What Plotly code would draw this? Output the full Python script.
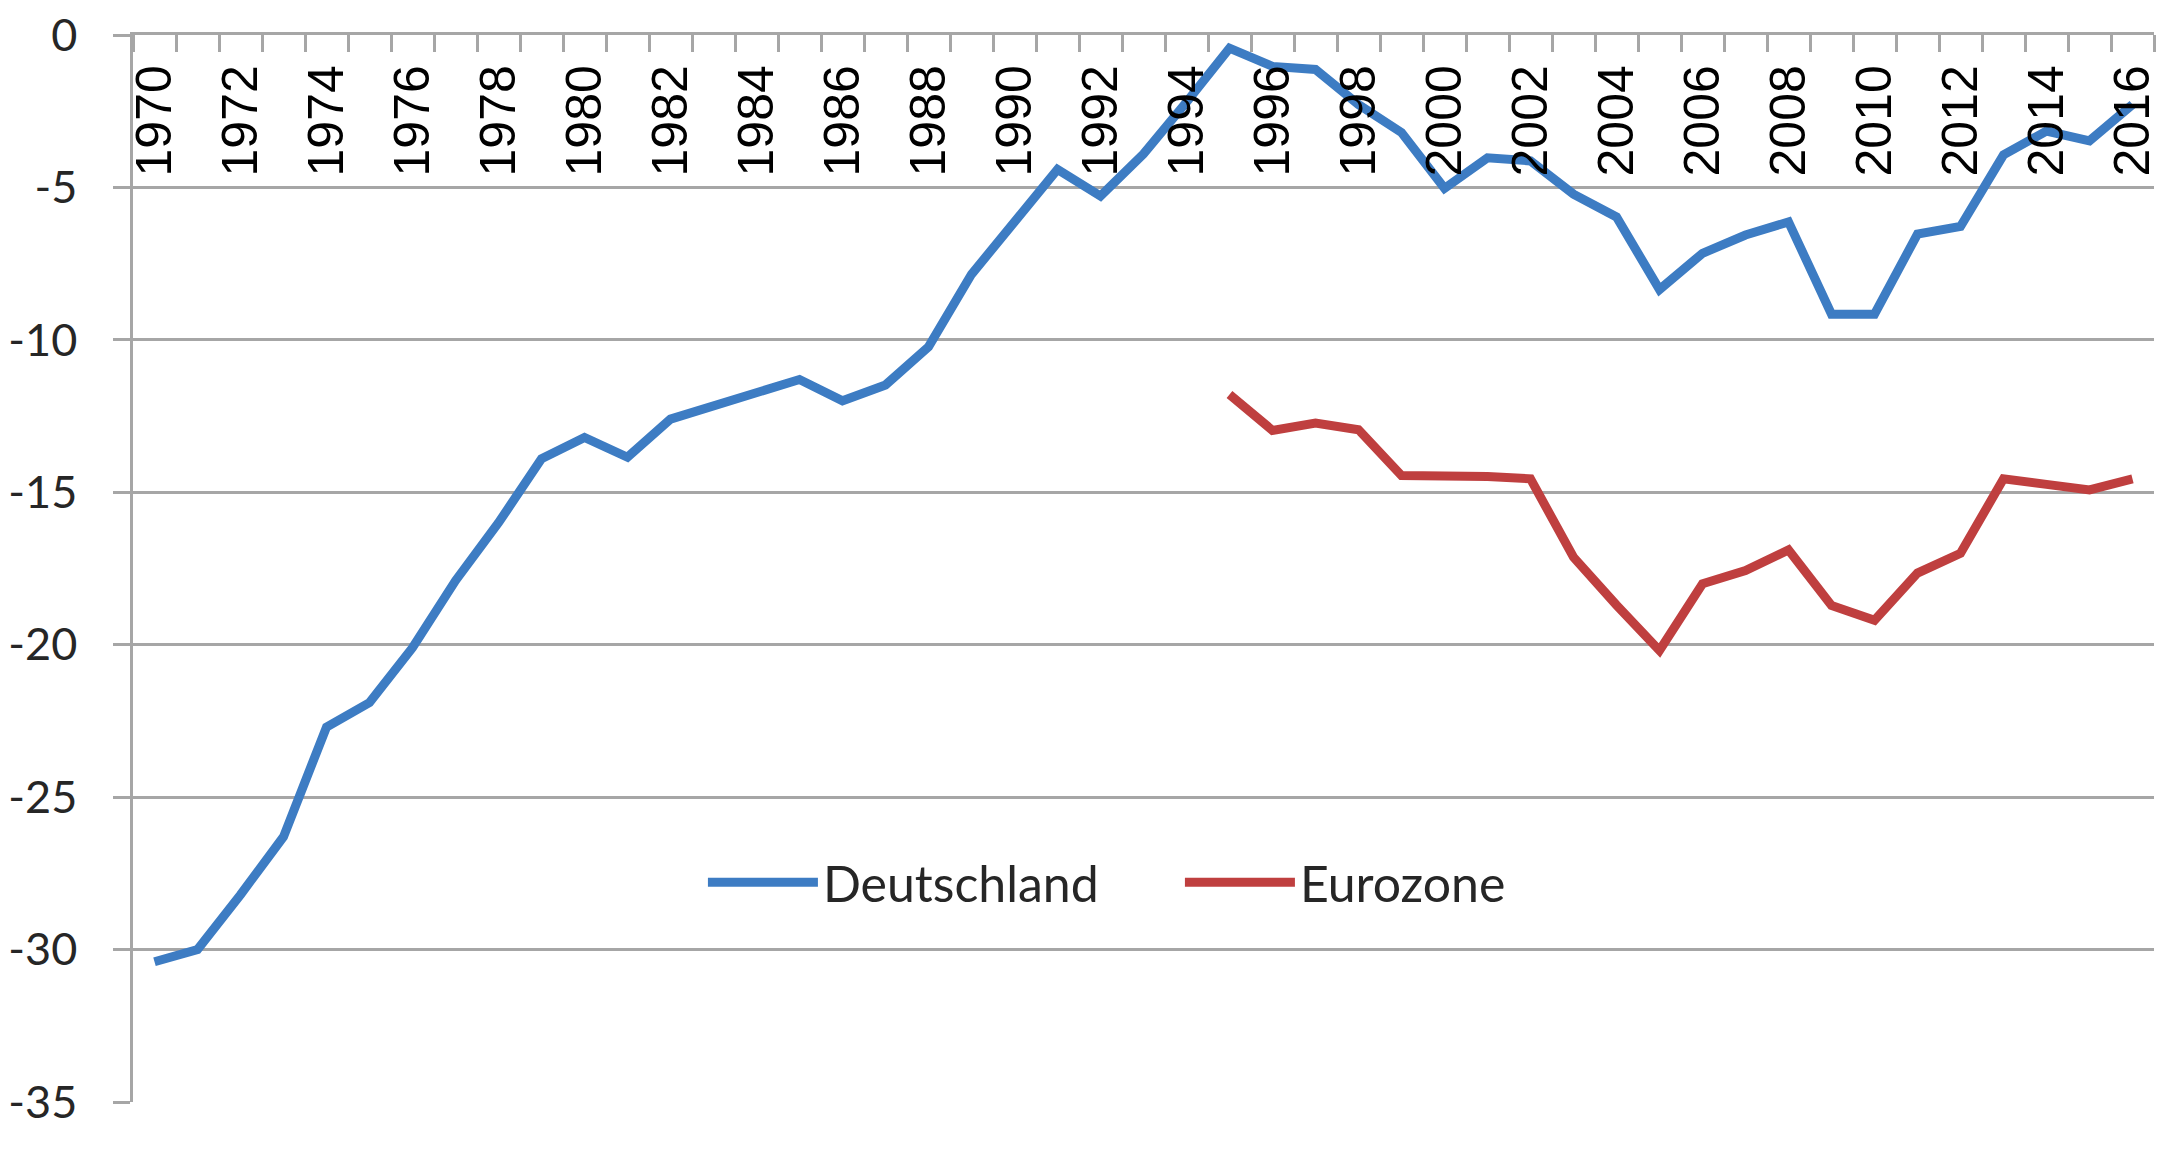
import plotly.graph_objects as go

years = list(range(1970, 2017))

deutschland = [-30.4, -30.0, -28.2, -26.3, -22.7, -21.9, -20.1, -17.9, -16.0, -13.9,
               -13.2, -13.85, -12.6, -12.15, -11.73, -11.3, -12.0, -11.48, -10.23, -7.85,
               -6.13, -4.41, -5.28, -3.9, -2.2, -0.43, -1.03, -1.13, -2.28, -3.2,
               -5.03, -4.03, -4.13, -5.22, -5.97, -8.35, -7.16, -6.56, -6.13, -9.16,
               -9.16, -6.53, -6.28, -3.93, -3.15, -3.47, -2.28]

eurozone = [None] * 25 + [-11.79, -12.97, -12.73, -12.95, -14.45, -14.45, -14.48, -14.56,
                          -17.13, -18.7, -20.19, -18.0, -17.57, -16.89, -18.71, -19.2,
                          -17.65, -17.0, -14.56, -14.74, -14.92, -14.56]

x_tick_years = list(range(1970, 2017, 2))
x_tick_labels = [str(y) for y in x_tick_years]
y_tick_vals = [0, -5, -10, -15, -20, -25, -30, -35]
y_tick_labels = ["0", "-5", "-10", "-15", "-20", "-25", "-30", "-35"]

GRID = "#A6A6A6"

fig = go.Figure()
fig.add_trace(go.Scatter(x=years, y=deutschland, mode="lines", name="Deutschland",
                         line=dict(color="#3D7CC3", width=9)))
fig.add_trace(go.Scatter(x=years, y=eurozone, mode="lines", name="Eurozone",
                         line=dict(color="#BF3F3F", width=9)))

fig.update_layout(
    width=2177, height=1152,
    margin=dict(l=125, r=31, t=27, b=58, autoexpand=False),
    paper_bgcolor="white", plot_bgcolor="white",
    showlegend=True,
    legend=dict(orientation="h", x=0.282, xanchor="left", y=0.206, yanchor="middle",
                font=dict(family="Lato", size=50, color="#262626"),
                bgcolor="rgba(0,0,0,0)", entrywidth=352, itemwidth=110),
    xaxis=dict(
        range=[1969.5, 2016.5], side="top", automargin=False,
        tickmode="array", tickvals=x_tick_years, ticktext=x_tick_labels,
        tickangle=-90, ticklabelposition="inside", ticklabeloverflow="allow",
        ticklabelstandoff=10,
        tickfont=dict(family="Liberation Sans, Arial", size=50, color="#000000"),
        ticks="", showgrid=False, zeroline=False,
        showline=True, linecolor=GRID, linewidth=2.5,
        minor=dict(tick0=1969.5, dtick=1, ticks="inside", ticklen=17,
                   tickcolor=GRID, tickwidth=2.5, showgrid=False),
    ),
    yaxis=dict(
        range=[-35, 0], automargin=False,
        tickmode="array", tickvals=y_tick_vals, ticktext=y_tick_labels,
        tickfont=dict(family="Lato", size=45, color="#262626"),
        ticks="outside", ticklen=17, tickcolor=GRID, tickwidth=2.5,
        ticklabelstandoff=27, ticklabeloverflow="allow",
        showgrid=True, gridcolor=GRID, gridwidth=2.5,
        zeroline=False, showline=True, linecolor=GRID, linewidth=2.5,
    ),
)

fig.write_html("out.html")
